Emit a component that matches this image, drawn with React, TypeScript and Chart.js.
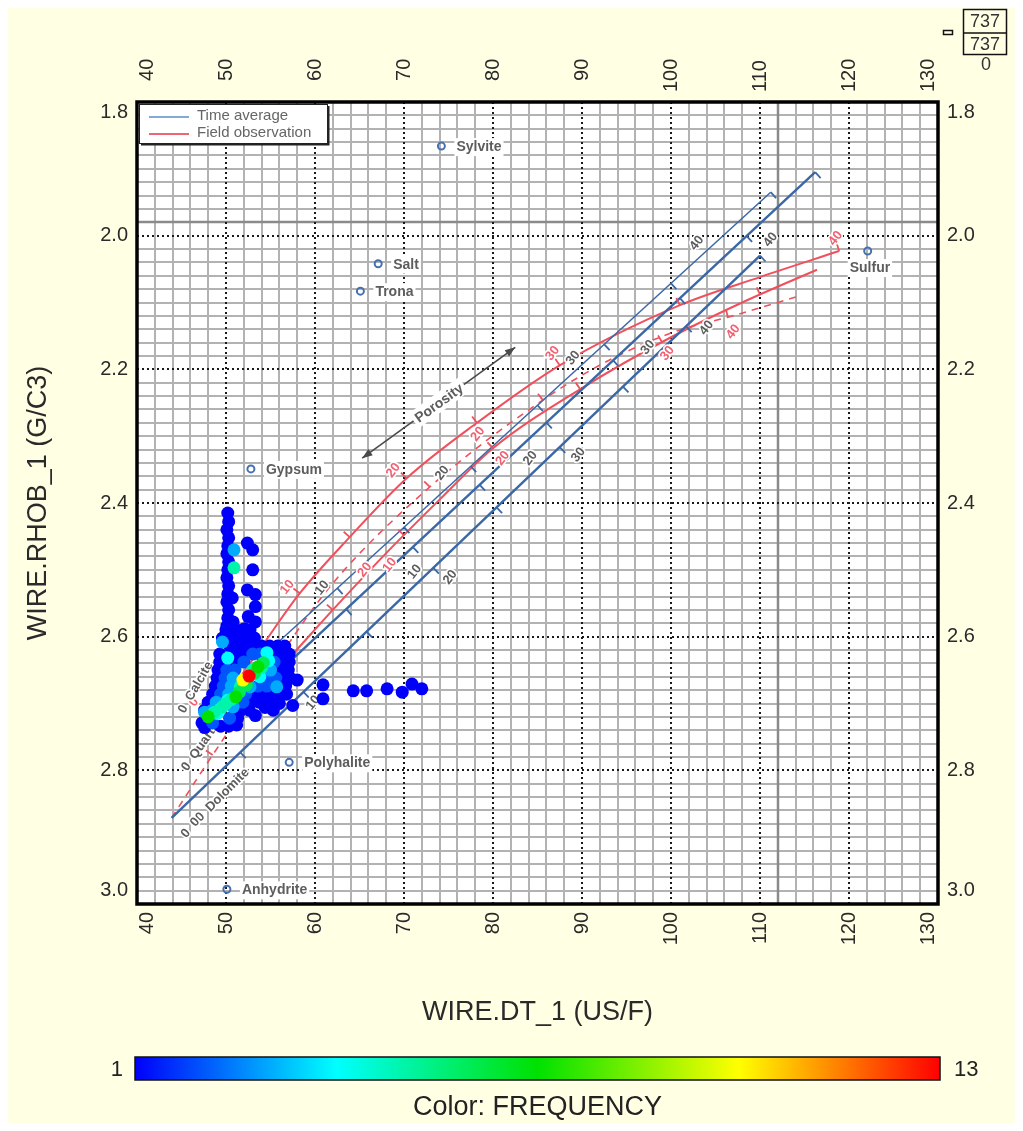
import React, { useEffect, useRef } from 'react';
import { Chart, registerables } from 'chart.js';

Chart.register(...registerables);

const FONT = "'Liberation Sans', Arial, Helvetica, sans-serif";

// ---------- axes ----------
const DT_MIN = 40;
const DT_MAX = 130;
const RHOB_MIN = 1.8;
const RHOB_MAX = 3.0;
const DT_MAJOR = 10;
const DT_MINOR = 2;
const RHOB_MAJOR = 0.2;
const RHOB_MINOR = 0.02;
const CURSOR_DT = 112;
const CURSOR_RHOB = 1.98;

const FREQ_MIN = 1;
const FREQ_MAX = 13;
const TOTAL_COUNT = '737';
const FILTERED_COUNT = '737';
const EXCLUDED_COUNT = '0';

// ---------- data: [DT, RHOB, frequency] ----------
const clusterPoints: [number, number, number][] = [
  // upper column
  [50.2, 2.415, 1], [50.3, 2.428, 1], [50.1, 2.44, 1], [50.3, 2.452, 1], [50.2, 2.464, 1],
  [50.1, 2.476, 1], [50.3, 2.488, 1], [50.2, 2.5, 1], [50.1, 2.512, 1], [50.3, 2.524, 1],
  [50.2, 2.536, 1], [50.7, 2.542, 1], [50.1, 2.548, 1], [50.3, 2.56, 1], [50.2, 2.572, 1],
  [50.8, 2.578, 1], [50.1, 2.584, 1], [50.3, 2.596, 1], [50.9, 2.47, 3], [50.9, 2.497, 5],
  // second column
  [52.4, 2.46, 1], [53.0, 2.47, 1], [53.0, 2.5, 1], [52.4, 2.53, 1], [53.3, 2.537, 1],
  [53.3, 2.555, 1], [52.5, 2.57, 1], [53.3, 2.578, 1], [52.1, 2.588, 1], [51.5, 2.598, 1],
  [52.8, 2.6, 1],
  // main cluster
  [50.0, 2.59, 1], [50.9, 2.59, 1], [51.8, 2.59, 1], [52.7, 2.59, 1],
  [49.6, 2.602, 1], [50.5, 2.602, 1], [51.4, 2.602, 1], [52.3, 2.602, 1], [53.2, 2.602, 1],
  [49.6, 2.608, 3],
  [50.4, 2.614, 1], [51.3, 2.614, 1], [52.2, 2.614, 1], [53.1, 2.614, 1], [54.0, 2.614, 1],
  [54.9, 2.614, 1], [55.8, 2.614, 1], [56.6, 2.614, 1],
  [49.3, 2.626, 1], [51.2, 2.626, 1], [52.1, 2.626, 1], [53.0, 2.626, 2], [53.8, 2.626, 2],
  [55.5, 2.626, 1], [56.4, 2.626, 1], [57.1, 2.626, 1],
  [54.6, 2.624, 4], [50.2, 2.632, 4],
  [49.3, 2.638, 1], [51.1, 2.638, 1], [52.0, 2.638, 2], [55.4, 2.638, 2], [56.3, 2.638, 1],
  [57.1, 2.638, 1],
  [54.2, 2.639, 6], [53.6, 2.645, 7],
  [49.1, 2.65, 1], [50.1, 2.65, 2], [51.0, 2.65, 2], [53.0, 2.65, 5], [55.0, 2.65, 3],
  [56.0, 2.65, 1], [57.0, 2.65, 1],
  [53.8, 2.66, 4], [52.6, 2.659, 13], [51.9, 2.665, 10],
  [49.0, 2.662, 1], [49.9, 2.662, 2], [50.8, 2.662, 3], [54.7, 2.662, 2], [55.6, 2.662, 2],
  [56.5, 2.662, 1], [57.2, 2.662, 1], [58.0, 2.665, 1],
  [51.6, 2.675, 5], [52.7, 2.675, 3], [55.7, 2.675, 3],
  [48.8, 2.674, 1], [49.7, 2.674, 2], [50.6, 2.674, 3], [53.6, 2.674, 2], [54.6, 2.674, 2],
  [56.7, 2.674, 1],
  [48.5, 2.686, 1], [49.4, 2.686, 2], [50.3, 2.686, 3], [52.2, 2.686, 2], [53.1, 2.686, 1],
  [54.0, 2.686, 1], [54.9, 2.686, 1], [55.8, 2.686, 1], [56.8, 2.686, 1],
  [51.1, 2.69, 7], [50.2, 2.695, 4],
  [48.0, 2.698, 1], [48.9, 2.698, 3], [51.9, 2.698, 2], [52.8, 2.698, 1], [53.7, 2.698, 1],
  [54.8, 2.698, 1], [56.0, 2.7, 1], [57.5, 2.703, 1],
  [49.6, 2.705, 5], [50.8, 2.705, 3],
  [47.6, 2.71, 1], [48.5, 2.71, 3], [51.7, 2.71, 1], [52.6, 2.71, 1], [54.4, 2.706, 1],
  [55.3, 2.71, 1],
  [47.6, 2.713, 3], [49.0, 2.715, 4], [48.0, 2.72, 7],
  [50.4, 2.722, 2], [51.3, 2.722, 1], [53.3, 2.718, 1],
  [48.5, 2.729, 2], [47.3, 2.729, 1],
  [47.6, 2.736, 1], [49.4, 2.734, 1], [50.3, 2.734, 1], [51.2, 2.732, 1],
  // diagonal high-frequency band
  [48.7, 2.713, 5], [49.4, 2.708, 4], [50.0, 2.7, 5], [50.6, 2.694, 5], [51.5, 2.683, 6],
  [52.3, 2.672, 6], [53.2, 2.655, 6], [54.0, 2.646, 5], [54.8, 2.636, 4], [49.0, 2.7, 3],
  // row to the right
  [60.9, 2.672, 1], [60.9, 2.693, 1], [64.3, 2.681, 1], [65.8, 2.681, 1], [68.1, 2.678, 1],
  [69.8, 2.683, 1], [70.9, 2.671, 1], [72.0, 2.678, 1],
];

// ---------- minerals ----------
const mineralNames = ['Sylvite', 'Salt', 'Trona', 'Gypsum', 'Polyhalite', 'Anhydrite', 'Sulfur'];
const mineralDT = [74.2, 67.1, 65.1, 52.8, 57.1, 50.1, 122.1];
const mineralRHOB = [1.866, 2.042, 2.083, 2.349, 2.788, 2.978, 2.023];
const mineralLabelSide = ['right', 'right', 'right', 'right', 'right', 'right', 'below'];

// ---------- time average (blue) lines ----------
const taSandDT = [56.0, 116.2];
const taSandRHOB = [2.652, 1.905];
const taLimeDT = [47.5, 111.2];
const taLimeRHOB = [2.71, 1.935];
const taDoloDT = [43.9, 110.0];
const taDoloRHOB = [2.871, 2.03];

// ---------- field observation (red) curves ----------
const foLimeDT = [49.5, 54.0, 58.3, 63.9, 70.3, 78.2, 87.5, 101.0, 110.0, 118.9];
const foLimeRHOB = [2.7, 2.615, 2.535, 2.451, 2.363, 2.28, 2.194, 2.104, 2.062, 2.023];
const foSandDT = [55.5, 56.9, 62.0, 68.0, 74.0, 80.0, 90.0, 100.0, 108.0, 116.4];
const foSandRHOB = [2.655, 2.635, 2.56, 2.475, 2.395, 2.318, 2.228, 2.152, 2.1, 2.051];
const foDoloDT = [43.9, 48.5, 54.0, 61.7, 72.9, 85.6, 93.1, 101.0, 106.4, 114.5];
const foDoloRHOB = [2.871, 2.777, 2.67, 2.525, 2.376, 2.246, 2.186, 2.141, 2.122, 2.09];

// porosity tick DT positions along each line
const taSandTicks = [63.5, 71, 78.5, 86, 93.5, 101, 108.5, 116.2];
const taLimeTicks = [55, 62.5, 70, 77.5, 85, 92.5, 100, 111.2];
const taDoloTicks = [51.6, 58.7, 65.8, 73.3, 80.4, 87.5, 94.6, 101.7, 110.0];
const foLimeTicks = [58.3, 63.9, 70.3, 78.2, 87.5, 101.0, 118.9];
const foSandTicks = [62, 70, 80, 89.8, 99, 110];
const foDoloTicks = [48.5, 61.7, 72.9, 85.6, 106.4];

// porosity labels: text, DT, RHOB
const greyLabelText = ['10', '10', '20', '20', '20', '30', '30', '30', '40', '40', '40', '10'];
const greyLabelDT = [60.8, 71.2, 75.2, 74.3, 84.2, 89.0, 89.6, 97.4, 102.9, 111.2, 104.0, 59.8];
const greyLabelRHOB = [2.527, 2.503, 2.511, 2.355, 2.333, 2.183, 2.328, 2.167, 2.011, 2.006, 2.138, 2.699];
const redLabelText = ['10', '20', '20', '10', '20', '20', '30', '30', '40', '40', '0', '0'];
const redLabelDT = [56.9, 68.8, 65.6, 68.4, 81.1, 78.3, 86.7, 99.6, 107.0, 118.5, 58.0, 46.4];
const redLabelRHOB = [2.526, 2.351, 2.5, 2.493, 2.333, 2.297, 2.176, 2.176, 2.144, 2.004, 2.662, 2.698];
const lithoLabelText = ['0  Calcite', '0  Quartz', '0  Dolomite', '0  0'];
const lithoLabelDT = [46.6, 47.1, 49.6, 46.0];
const lithoLabelRHOB = [2.676, 2.765, 2.837, 2.886];
const lithoLabelAngle = [-60, -55, -45, -50];

const porosityArrowDT = [65.3, 82.5];
const porosityArrowRHOB = [2.333, 2.167];
const porosityLabel = 'Porosity';

const legendLabels = ['Time average', 'Field observation'];
const xTitle = 'WIRE.DT_1 (US/F)';
const yTitle = 'WIRE.RHOB_1 (G/C3)';
const colorTitle = 'Color: FREQUENCY';

// ---------- styles ----------
const BLUE = '#3a67a6';
const RED = '#f0505c';
const GREY_TEXT = '#5d5d5d';
const RED_TEXT = '#f06070';
const BG = '#ffffe4';
const TICK_COLOR = '#2a2a2a';
const TICK_FONT = `20px ${FONT}`;

const jetStops: [number, number[]][] = [
  [0, [0, 0, 250]],
  [0.25, [0, 255, 255]],
  [0.5, [0, 225, 0]],
  [0.75, [255, 255, 0]],
  [1, [255, 0, 0]],
];
function jet(t: number) {
  t = Math.max(0, Math.min(1, t));
  for (let i = 0; i < jetStops.length - 1; i++) {
    const [t0, c0] = jetStops[i];
    const [t1, c1] = jetStops[i + 1];
    if (t >= t0 && t <= t1) {
      const f = (t - t0) / (t1 - t0);
      const c = c0.map((v, k) => Math.round(v + f * (c1[k] - v)));
      return `rgb(${c[0]},${c[1]},${c[2]})`;
    }
  }
  return 'rgb(255,0,0)';
}

type Line = { dt: number[]; rhob: number[]; ticks: number[]; color: string; width: number; dash: number[]; curve: boolean; tickSide: number };
const lines: Line[] = [
  { dt: taSandDT, rhob: taSandRHOB, ticks: taSandTicks, color: BLUE, width: 2.4, dash: [], curve: false, tickSide: 1 },
  { dt: taLimeDT, rhob: taLimeRHOB, ticks: taLimeTicks, color: BLUE, width: 1.5, dash: [], curve: false, tickSide: 1 },
  { dt: taDoloDT, rhob: taDoloRHOB, ticks: taDoloTicks, color: BLUE, width: 2.4, dash: [], curve: false, tickSide: 1 },
  { dt: foLimeDT, rhob: foLimeRHOB, ticks: foLimeTicks, color: RED, width: 2, dash: [], curve: true, tickSide: -1 },
  { dt: foSandDT, rhob: foSandRHOB, ticks: foSandTicks, color: RED, width: 2, dash: [], curve: true, tickSide: -1 },
  { dt: foDoloDT, rhob: foDoloRHOB, ticks: foDoloTicks, color: RED, width: 1.6, dash: [7, 6], curve: true, tickSide: -1 },
];

const isEdgeDT = (v: number) => Math.abs(v - DT_MIN) < 1e-6 || Math.abs(v - DT_MAX) < 1e-6;
const isEdgeRHOB = (v: number) => Math.abs(v - RHOB_MIN) < 1e-6 || Math.abs(v - RHOB_MAX) < 1e-6;
const topLabel = (v: number) => (v >= 100 ? String(v) : '  ' + v);

function px(chart: any, dt: number, rh: number) {
  return [chart.scales.x.getPixelForValue(dt), chart.scales.y.getPixelForValue(rh)];
}

function pointOnLine(chart: any, dts: number[], rhs: number[], dt: number) {
  for (let i = 0; i < dts.length - 1; i++) {
    if (dt >= dts[i] - 1e-9 && dt <= dts[i + 1] + 1e-9) {
      const t = (dt - dts[i]) / (dts[i + 1] - dts[i]);
      const [x0, y0] = px(chart, dts[i], rhs[i]);
      const [x1, y1] = px(chart, dts[i + 1], rhs[i + 1]);
      return { x: x0 + t * (x1 - x0), y: y0 + t * (y1 - y0), dx: x1 - x0, dy: y1 - y0 };
    }
  }
  return null;
}

function haloText(ctx: CanvasRenderingContext2D, text: string, x: number, y: number, angle: number, color: string, font: string) {
  ctx.save();
  ctx.translate(x, y);
  ctx.rotate((angle * Math.PI) / 180);
  ctx.font = font;
  ctx.textAlign = 'center';
  ctx.textBaseline = 'middle';
  ctx.lineJoin = 'round';
  ctx.lineWidth = 3.5;
  ctx.strokeStyle = 'rgba(255,255,255,0.95)';
  ctx.strokeText(text, 0, 0);
  ctx.fillStyle = color;
  ctx.fillText(text, 0, 0);
  ctx.restore();
}

function rotatedLabel(ctx: CanvasRenderingContext2D, text: string, x: number, y: number, align: CanvasTextAlign) {
  ctx.save();
  ctx.translate(x, y);
  ctx.rotate(-Math.PI / 2);
  ctx.font = TICK_FONT;
  ctx.fillStyle = TICK_COLOR;
  ctx.textAlign = align;
  ctx.textBaseline = 'middle';
  ctx.fillText(text, 0, 0);
  ctx.restore();
}

const overlayPlugin = {
  id: 'overlay',
  beforeDraw(chart: any) {
    const { ctx, width, height, chartArea } = chart;
    ctx.save();
    ctx.fillStyle = BG;
    ctx.fillRect(0, 0, width, height);
    ctx.fillStyle = '#ffffff';
    ctx.fillRect(chartArea.left, chartArea.top, chartArea.right - chartArea.left, chartArea.bottom - chartArea.top);
    ctx.restore();
  },
  beforeDatasetsDraw(chart: any) {
    const { ctx, chartArea } = chart;
    const { left, right, top, bottom } = chartArea;
    const xs = chart.scales.x;
    const ys = chart.scales.y;
    ctx.save();
    // minor grid
    ctx.strokeStyle = '#b2b2b2';
    ctx.lineWidth = 2;
    ctx.beginPath();
    const nx = Math.round((DT_MAX - DT_MIN) / DT_MINOR);
    const perMajorX = Math.round(DT_MAJOR / DT_MINOR);
    for (let i = 1; i < nx; i++) {
      if (i % perMajorX === 0) continue;
      const p = Math.round(xs.getPixelForValue(DT_MIN + i * DT_MINOR));
      ctx.moveTo(p, top);
      ctx.lineTo(p, bottom);
    }
    const ny = Math.round((RHOB_MAX - RHOB_MIN) / RHOB_MINOR);
    const perMajorY = Math.round(RHOB_MAJOR / RHOB_MINOR);
    for (let i = 1; i < ny; i++) {
      if (i % perMajorY === 0) continue;
      const p = Math.round(ys.getPixelForValue(RHOB_MIN + i * RHOB_MINOR));
      ctx.moveTo(left, p);
      ctx.lineTo(right, p);
    }
    ctx.stroke();
    // cursor lines
    ctx.strokeStyle = '#8a8a8a';
    ctx.lineWidth = 2.5;
    ctx.beginPath();
    const cx = Math.round(xs.getPixelForValue(CURSOR_DT));
    const cy = Math.round(ys.getPixelForValue(CURSOR_RHOB));
    ctx.moveTo(cx, top);
    ctx.lineTo(cx, bottom);
    ctx.moveTo(left, cy);
    ctx.lineTo(right, cy);
    ctx.stroke();
    // major dotted grid
    ctx.strokeStyle = '#1a1a1a';
    ctx.lineWidth = 2;
    ctx.setLineDash([2, 3]);
    ctx.beginPath();
    for (let v = DT_MIN + DT_MAJOR; v < DT_MAX - 1e-9; v += DT_MAJOR) {
      const p = Math.round(xs.getPixelForValue(v));
      ctx.moveTo(p, top);
      ctx.lineTo(p, bottom);
    }
    const nmy = Math.round((RHOB_MAX - RHOB_MIN) / RHOB_MAJOR);
    for (let i = 1; i < nmy; i++) {
      const p = Math.round(ys.getPixelForValue(RHOB_MIN + i * RHOB_MAJOR));
      ctx.moveTo(left, p);
      ctx.lineTo(right, p);
    }
    ctx.stroke();
    ctx.restore();
  },
  beforeDatasetDraw(chart: any, args: any) {
    if (args.index !== 0) return;
    const { ctx, chartArea } = chart;
    ctx.save();
    ctx.beginPath();
    ctx.rect(chartArea.left, chartArea.top, chartArea.right - chartArea.left, chartArea.bottom - chartArea.top);
    ctx.clip();
    // porosity ticks
    for (const ln of lines) {
      ctx.strokeStyle = ln.color;
      ctx.lineWidth = 1.8;
      ctx.setLineDash([]);
      for (const t of ln.ticks) {
        const p = pointOnLine(chart, ln.dt, ln.rhob, t);
        if (!p) continue;
        const len = Math.hypot(p.dx, p.dy);
        const nx = (p.dy / len) * ln.tickSide * -1;
        const ny = (-p.dx / len) * ln.tickSide * -1;
        ctx.beginPath();
        ctx.moveTo(p.x, p.y);
        ctx.lineTo(p.x + nx * 8, p.y + ny * 8);
        ctx.stroke();
      }
    }
    // porosity arrow
    const [ax0, ay0] = px(chart, porosityArrowDT[0], porosityArrowRHOB[0]);
    const [ax1, ay1] = px(chart, porosityArrowDT[1], porosityArrowRHOB[1]);
    const ang = Math.atan2(ay1 - ay0, ax1 - ax0);
    ctx.strokeStyle = '#4a4a4a';
    ctx.fillStyle = '#4a4a4a';
    ctx.lineWidth = 1.6;
    ctx.beginPath();
    ctx.moveTo(ax0, ay0);
    ctx.lineTo(ax1, ay1);
    ctx.stroke();
    const head = (x: number, y: number, a: number) => {
      ctx.beginPath();
      ctx.moveTo(x, y);
      ctx.lineTo(x - 11 * Math.cos(a - 0.35), y - 11 * Math.sin(a - 0.35));
      ctx.lineTo(x - 11 * Math.cos(a + 0.35), y - 11 * Math.sin(a + 0.35));
      ctx.closePath();
      ctx.fill();
    };
    head(ax1, ay1, ang);
    head(ax0, ay0, ang + Math.PI);
    const mx = (ax0 + ax1) / 2;
    const my = (ay0 + ay1) / 2;
    ctx.save();
    ctx.translate(mx, my);
    ctx.rotate(ang);
    ctx.font = `bold 14px ${FONT}`;
    const w = ctx.measureText(porosityLabel).width;
    ctx.fillStyle = '#ffffff';
    ctx.fillRect(-w / 2 - 3, -9, w + 6, 18);
    ctx.fillStyle = GREY_TEXT;
    ctx.textAlign = 'center';
    ctx.textBaseline = 'middle';
    ctx.fillText(porosityLabel, 0, 1);
    ctx.restore();
    // porosity numbers
    const numFont = `bold 13px ${FONT}`;
    greyLabelText.forEach((t, i) => {
      const [x, y] = px(chart, greyLabelDT[i], greyLabelRHOB[i]);
      haloText(ctx, t, x, y, -52, GREY_TEXT, numFont);
    });
    redLabelText.forEach((t, i) => {
      const [x, y] = px(chart, redLabelDT[i], redLabelRHOB[i]);
      haloText(ctx, t, x, y, -52, RED_TEXT, numFont);
    });
    lithoLabelText.forEach((t, i) => {
      const [x, y] = px(chart, lithoLabelDT[i], lithoLabelRHOB[i]);
      haloText(ctx, t, x, y, lithoLabelAngle[i], GREY_TEXT, numFont);
    });
    // mineral labels
    ctx.font = `bold 14px ${FONT}`;
    ctx.textBaseline = 'middle';
    mineralNames.forEach((name, i) => {
      const [x, y] = px(chart, mineralDT[i], mineralRHOB[i]);
      const w2 = ctx.measureText(name).width;
      let tx = x + 15;
      let ty = y + 1;
      if (mineralLabelSide[i] === 'below') {
        tx = x - 18;
        ty = y + 17;
      }
      ctx.fillStyle = '#ffffff';
      ctx.fillRect(tx - 2, ty - 9, w2 + 4, 18);
      ctx.fillStyle = GREY_TEXT;
      ctx.textAlign = 'left';
      ctx.fillText(name, tx, ty);
    });
    ctx.restore();
  },
  afterDraw(chart: any) {
    const { ctx, chartArea } = chart;
    const { left, right, top, bottom } = chartArea;
    ctx.save();
    // edge tick labels, kept inside the frame span as in the reference
    rotatedLabel(ctx, String(DT_MIN), left + 10, bottom + 8, 'right');
    rotatedLabel(ctx, String(DT_MAX), right - 10, bottom + 8, 'right');
    rotatedLabel(ctx, topLabel(DT_MIN), left + 10, top - 10, 'left');
    rotatedLabel(ctx, topLabel(DT_MAX), right - 10, top - 10, 'left');
    ctx.font = TICK_FONT;
    ctx.fillStyle = TICK_COLOR;
    ctx.textBaseline = 'middle';
    ctx.textAlign = 'right';
    ctx.fillText(RHOB_MIN.toFixed(1), left - 9, top + 10);
    ctx.fillText(RHOB_MAX.toFixed(1), left - 9, bottom - 14);
    ctx.textAlign = 'left';
    ctx.fillText(RHOB_MIN.toFixed(1), right + 9, top + 10);
    ctx.fillText(RHOB_MAX.toFixed(1), right + 9, bottom - 14);
    // frame
    ctx.strokeStyle = '#000';
    ctx.lineWidth = 3.5;
    ctx.strokeRect(left, top, right - left, bottom - top);
    // legend
    const lx = left + 2;
    const ly = top + 2;
    const lw = 188;
    const lh = 39;
    ctx.fillStyle = '#ffffff';
    ctx.fillRect(lx, ly, lw, lh);
    ctx.strokeStyle = '#222';
    ctx.lineWidth = 1;
    ctx.strokeRect(lx + 0.5, ly + 0.5, lw, lh);
    ctx.lineWidth = 2;
    ctx.beginPath();
    ctx.moveTo(lx + lw + 1.5, ly + 2);
    ctx.lineTo(lx + lw + 1.5, ly + lh + 1.5);
    ctx.lineTo(lx + 2, ly + lh + 1.5);
    ctx.stroke();
    ctx.lineWidth = 2;
    ctx.strokeStyle = '#84a9d6';
    ctx.beginPath();
    ctx.moveTo(lx + 10, ly + 13);
    ctx.lineTo(lx + 50, ly + 13);
    ctx.stroke();
    ctx.strokeStyle = '#ee6575';
    ctx.beginPath();
    ctx.moveTo(lx + 10, ly + 30);
    ctx.lineTo(lx + 50, ly + 30);
    ctx.stroke();
    ctx.font = `15px ${FONT}`;
    ctx.fillStyle = '#666';
    ctx.textAlign = 'left';
    ctx.textBaseline = 'middle';
    ctx.fillText(legendLabels[0], lx + 58, ly + 12);
    ctx.fillText(legendLabels[1], lx + 58, ly + 29);
    // colour bar
    const cbx = 127;
    const cby = 1049;
    const cbw = 805;
    const cbh = 23;
    const grad = ctx.createLinearGradient(cbx, 0, cbx + cbw, 0);
    jetStops.forEach(([t, c]) => grad.addColorStop(t, `rgb(${c[0]},${c[1]},${c[2]})`));
    ctx.fillStyle = grad;
    ctx.fillRect(cbx, cby, cbw, cbh);
    ctx.strokeStyle = '#111';
    ctx.lineWidth = 1.5;
    ctx.strokeRect(cbx, cby, cbw, cbh);
    ctx.fillStyle = '#222';
    ctx.font = `22px ${FONT}`;
    ctx.textBaseline = 'middle';
    ctx.textAlign = 'right';
    ctx.fillText(String(FREQ_MIN), cbx - 12, cby + cbh / 2 + 1);
    ctx.textAlign = 'left';
    ctx.fillText(String(FREQ_MAX), cbx + cbw + 14, cby + cbh / 2 + 1);
    ctx.font = `27px ${FONT}`;
    ctx.textAlign = 'center';
    ctx.fillText(colorTitle, (left + right) / 2, 1100);
    // count widget (top right)
    ctx.strokeStyle = '#111';
    ctx.lineWidth = 1.5;
    ctx.strokeRect(955.5, 1.5, 43, 45);
    ctx.beginPath();
    ctx.moveTo(955.5, 25);
    ctx.lineTo(998.5, 25);
    ctx.stroke();
    ctx.font = `18px ${FONT}`;
    ctx.fillStyle = '#333';
    ctx.textAlign = 'center';
    ctx.fillText(TOTAL_COUNT, 977, 14);
    ctx.fillText(FILTERED_COUNT, 977, 37);
    ctx.fillText(EXCLUDED_COUNT, 978, 57);
    ctx.lineWidth = 1.5;
    ctx.strokeRect(935.5, 22.5, 9, 4);
    ctx.restore();
  },
};

function axisTicks(position: string, padding: number) {
  const horizontal = position === 'bottom' || position === 'top';
  return {
    stepSize: horizontal ? DT_MAJOR : RHOB_MAJOR,
    autoSkip: false,
    padding,
    color: TICK_COLOR,
    font: { size: 20, family: FONT },
    minRotation: horizontal ? 90 : 0,
    maxRotation: horizontal ? 90 : 0,
    labelOffset: position === 'top' ? 24 : 0,
    callback: (v: any) => {
      const n = Number(v);
      if (horizontal) {
        if (isEdgeDT(n)) return '';
        return position === 'top' ? topLabel(Math.round(n)) : String(Math.round(n));
      }
      if (isEdgeRHOB(n)) return '';
      return n.toFixed(1);
    },
  };
}

export default function App() {
  const ref = useRef<HTMLCanvasElement>(null);
  useEffect(() => {
    const canvas = ref.current;
    if (!canvas) return;
    const sorted = [...clusterPoints].sort((a, b) => a[2] - b[2]);
    const datasets: any[] = [
      {
        label: 'Frequency',
        data: sorted.map((p) => ({ x: p[0], y: p[1] })),
        pointRadius: 6.5,
        pointBorderWidth: 0,
        pointBorderColor: 'rgba(0,0,0,0)',
        pointBackgroundColor: sorted.map((p) => jet((p[2] - FREQ_MIN) / (FREQ_MAX - FREQ_MIN))),
        showLine: false,
      },
      {
        label: 'Minerals',
        data: mineralDT.map((d, i) => ({ x: d, y: mineralRHOB[i] })),
        pointRadius: 3.5,
        pointBorderWidth: 2,
        pointBorderColor: '#4670b0',
        pointBackgroundColor: 'rgba(255,255,255,0)',
        showLine: false,
      },
      ...lines.map((ln, i) => ({
        label: 'line' + i,
        data: ln.dt.map((d, k) => ({ x: d, y: ln.rhob[k] })),
        showLine: true,
        pointRadius: 0,
        borderColor: ln.color,
        backgroundColor: ln.color,
        borderWidth: ln.width,
        borderDash: ln.dash,
        fill: false,
        tension: 0,
        cubicInterpolationMode: ln.curve ? 'monotone' : 'default',
      })),
    ];
    const chart = new Chart(canvas, {
      type: 'scatter',
      data: { datasets },
      options: {
        animation: false,
        responsive: false,
        events: [],
        layout: { padding: { left: 0, right: 0, top: 0, bottom: 85 } },
        plugins: { legend: { display: false }, tooltip: { enabled: false } },
        scales: {
          x: {
            type: 'linear',
            position: 'bottom',
            min: DT_MIN,
            max: DT_MAX,
            grid: { display: false, drawTicks: false },
            border: { display: false },
            ticks: axisTicks('bottom', 8),
            title: { display: true, text: xTitle, color: TICK_COLOR, font: { size: 27, family: FONT }, padding: { top: 0, bottom: 9 } },
            afterFit: (s: any) => { s.height = 134; },
          },
          x2: {
            type: 'linear',
            position: 'top',
            min: DT_MIN,
            max: DT_MAX,
            grid: { display: false, drawTicks: false },
            border: { display: false },
            ticks: axisTicks('top', 10),
            afterFit: (s: any) => { s.height = 94; },
          },
          y: {
            type: 'linear',
            position: 'left',
            reverse: true,
            min: RHOB_MIN,
            max: RHOB_MAX,
            grid: { display: false, drawTicks: false },
            border: { display: false },
            ticks: axisTicks('left', 9),
            title: { display: true, text: yTitle, color: TICK_COLOR, font: { size: 27, family: FONT }, padding: { top: 14, bottom: 0 } },
            afterFit: (s: any) => { s.width = 129; },
          },
          y2: {
            type: 'linear',
            position: 'right',
            reverse: true,
            min: RHOB_MIN,
            max: RHOB_MAX,
            grid: { display: false, drawTicks: false },
            border: { display: false },
            ticks: axisTicks('right', 9),
            afterFit: (s: any) => { s.width = 77; },
          },
        },
      } as any,
      plugins: [overlayPlugin],
    });
    return () => chart.destroy();
  }, []);
  return <canvas ref={ref} width={1007} height={1115} style={{ display: 'block' }} />;
}
